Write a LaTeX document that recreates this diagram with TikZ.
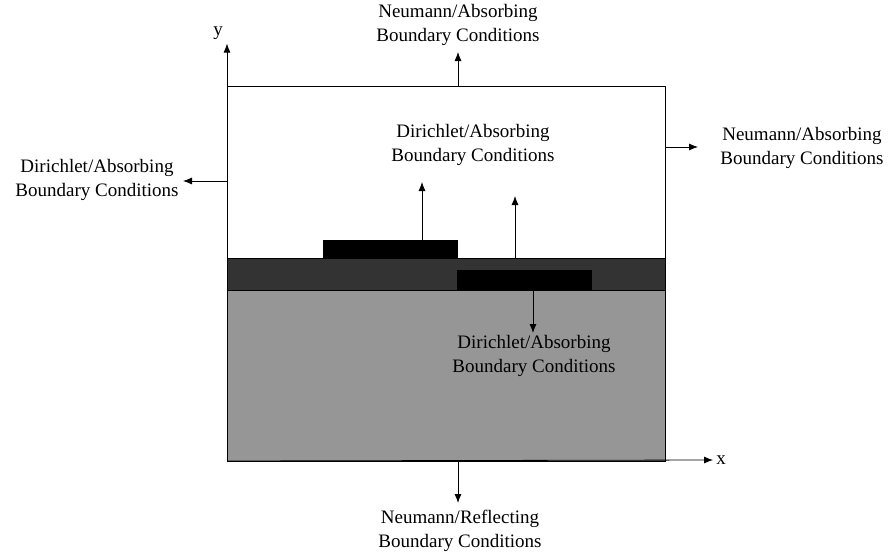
\documentclass[tikz,border=0pt]{standalone}
\usepackage{fontspec}
\setmainfont{Liberation Serif}
\usetikzlibrary{arrows.meta}

\begin{document}
\begin{tikzpicture}[x=1pt,y=-1pt,
  bc/.style={align=center,font=\fontsize{19}{24}\selectfont,inner sep=0pt},
  arr/.style={-{Latex[length=9pt,width=7pt]},line width=0.8pt}]%
\useasboundingbox (0,0) rectangle (891,555);%
% layers
\fill[fill={rgb,255:red,150;green,150;blue,150}] (227,290) rectangle (665,461);%
\fill[fill={rgb,255:red,51;green,51;blue,51}] (227,258) rectangle (665,290);%
\node[fill=black,inner sep=0pt,minimum width=135pt,minimum height=18pt,anchor=south west] (topel) at (323,258) {};%
\node[fill=black,inner sep=0pt,minimum width=135pt,minimum height=20pt,anchor=south west] (botel) at (457,290) {};%
\draw[line width=0.8pt] (227,86) rectangle (665,461);%
\draw[line width=0.8pt] (227,258) -- (665,258);%
\draw[line width=0.8pt] (227,290) -- (665,290);%
% axes
\coordinate (O) at (227,461);%
\node[bc] (ylab) at (218,33) {y};%
\node[bc] (xlab) at (721,460) {x};%
\draw[arr] (O) -- ([yshift=-4pt]ylab.south -| O);%
\draw[arr] (O) -- ([xshift=-3pt]xlab.west);%
% labels
\node[bc] (top) at (458,25) {Neumann/Absorbing\\Boundary Conditions};%
\node[bc] (right) at (802,148) {Neumann/Absorbing\\Boundary Conditions};%
\node[bc] (left) at (97,180) {Dirichlet/Absorbing\\Boundary Conditions};%
\node[bc] (inner) at (473,145) {Dirichlet/Absorbing\\Boundary Conditions};%
\node[bc] (lower) at (534,356) {Dirichlet/Absorbing\\Boundary Conditions};%
\node[bc] (bottom) at (460,531) {Neumann/Reflecting\\Boundary Conditions};%
% boundary arrows
\coordinate (tb) at (458,86);%
\coordinate (rb) at (665,147);%
\coordinate (lb) at (227,181);%
\coordinate (bb) at (458,461);%
\coordinate (e1) at (422,240);%
\coordinate (e2) at (515,258);%
\coordinate (e3) at (533,290);%
\draw[arr] (tb) -- (tb |- 0,52);%
\draw[arr] (rb) -- (698,147);%
\draw[arr] (lb) -- (183,181);%
\draw[arr] (bb) -- (bb |- 0,503);%
\draw[arr] (e1) -- (e1 |- 0,182);%
\draw[arr] (e2) -- (e2 |- 0,196);%
\draw[arr] (e3) -- (e3 |- 0,333);%
\end{tikzpicture}
\end{document}
